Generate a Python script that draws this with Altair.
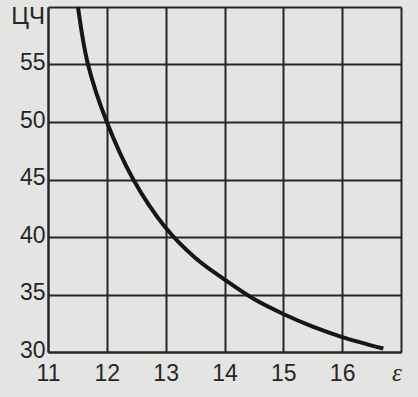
import altair as alt
import pandas as pd

# Curve
eps = [11.51, 11.68, 12.0, 12.45, 13.0, 13.5, 14.0, 14.5, 15.0, 15.5, 16.0, 16.7]
cn = [60.0, 55.0, 50.0, 45.0, 40.8, 38.2, 36.3, 34.6, 33.3, 32.2, 31.3, 30.3]

x_ticks = [11, 12, 13, 14, 15, 16, 17]
y_ticks = [30, 35, 40, 45, 50, 55, 60]

FONT = "Liberation Sans Narrow, Liberation Sans, Arial, sans-serif"
INK = "#262626"

df = pd.DataFrame({"eps": eps, "cn": cn})

xs = alt.Scale(domain=[11, 17], nice=False)
ys = alt.Scale(domain=[30, 60], nice=False)

x_axis = alt.Axis(values=x_ticks, grid=True, gridColor=INK, gridWidth=2, gridOpacity=1,
                  domainColor=INK, domainWidth=2, ticks=False, labelPadding=10, format="d",
                  labelFont=FONT, labelFontSize=23, labelColor=INK, title=None,
                  labelExpr="datum.value == 17 ? '' : datum.label", labelFlush=False)
y_axis = alt.Axis(values=y_ticks, grid=True, gridColor=INK, gridWidth=2, gridOpacity=1,
                  domainColor=INK, domainWidth=2, ticks=False, labelPadding=3, labelOffset=-2,
                  format="d",
                  labelFont=FONT, labelFontSize=23, labelColor=INK, title=None,
                  labelExpr="datum.value == 60 ? '' : datum.label", labelFlush=False)

curve = alt.Chart(df).mark_line(color="#161616", strokeWidth=4, interpolate="catmull-rom").encode(
    x=alt.X("eps:Q", scale=xs, axis=x_axis),
    y=alt.Y("cn:Q", scale=ys, axis=y_axis),
    order="eps:Q",
)

ylab = alt.Chart(pd.DataFrame({"x": [11], "y": [60], "t": ["ЦЧ"]})).mark_text(
    align="right", baseline="middle", dx=-3, dy=10, font=FONT, fontSize=24, color=INK
).encode(x=alt.X("x:Q", scale=xs), y=alt.Y("y:Q", scale=ys), text="t:N")

xlab = alt.Chart(pd.DataFrame({"x": [17], "y": [30], "t": ["ε"]})).mark_text(
    align="center", baseline="top", dx=-4, dy=9, font="Liberation Serif, DejaVu Serif, serif",
    fontStyle="italic", fontSize=25, color=INK
).encode(x=alt.X("x:Q", scale=xs), y=alt.Y("y:Q", scale=ys), text="t:N")

chart = alt.layer(curve, ylab, xlab).properties(
    width=353, height=345,
    autosize=alt.AutoSizeParams(type="none"),
    padding={"left": 48, "top": 7, "right": 17, "bottom": 45},
    background="#e4e4e2",
).configure_view(stroke=None)

chart.save("out.html", embed_options={"renderer": "svg", "actions": False})
